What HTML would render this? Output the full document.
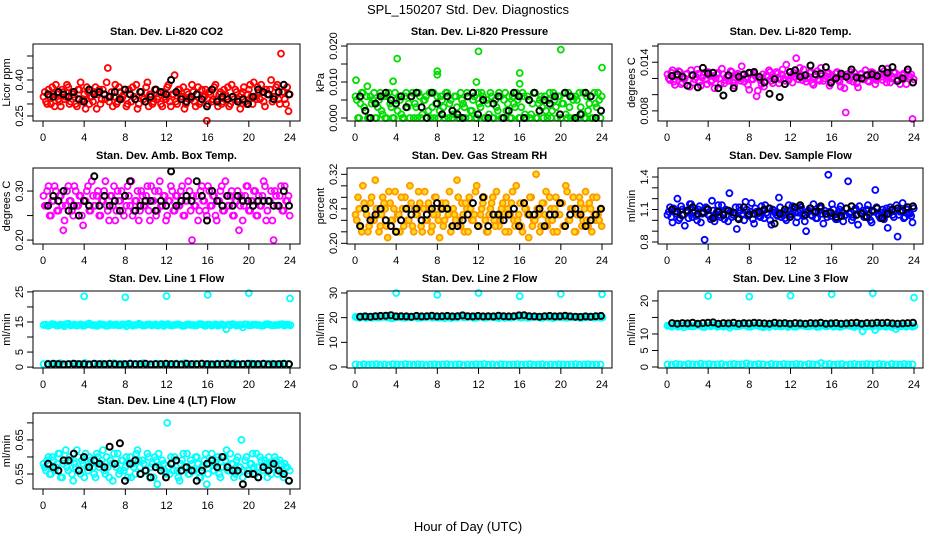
<!DOCTYPE html>
<html><head><meta charset="utf-8"><title>SPL_150207 Std. Dev. Diagnostics</title>
<style>html,body{margin:0;padding:0;background:#fff}svg{display:block;font-family:"Liberation Sans",sans-serif}</style>
</head><body>
<svg id="chart" width="936" height="540" viewBox="0 0 936 540">
<text x="468" y="14" text-anchor="middle" font-size="13">SPL_150207  Std. Dev. Diagnostics</text>
<text x="468" y="531" text-anchor="middle" font-size="13">Hour of Day (UTC)</text>
</svg>
<script>
// ---- data arrays ----
const co2Red=[0.33,0.31,0.36,0.30,0.34,0.38,0.32,0.29,0.35,0.33,0.37,0.31,0.34,0.30,0.36,0.39,0.32,0.28,0.35,0.33,0.31,0.37,0.34,0.30,0.36,0.32,0.45,0.33,0.29,0.38,0.31,0.35,0.33,0.36,0.30,0.34,0.37,0.32,0.28,0.35,0.33,0.31,0.39,0.34,0.30,0.36,0.32,0.35,0.29,0.33,0.37,0.31,0.34,0.42,0.30,0.36,0.33,0.28,0.35,0.32,0.38,0.31,0.34,0.30,0.36,0.33,0.23,0.35,0.31,0.37,0.32,0.34,0.30,0.36,0.33,0.29,0.38,0.32,0.35,0.31,0.34,0.37,0.30,0.36,0.33,0.39,0.32,0.35,0.38,0.31,0.36,0.34,0.40,0.33,0.37,0.32,0.51,0.35,0.30,0.27];
const co2Red2=[0.35,0.30,0.33,0.37,0.29,0.34,0.31,0.36,0.32,0.38,0.30,0.35,0.33,0.29,0.36,0.31,0.34,0.37,0.30,0.33,0.35,0.28,0.36,0.32,0.34,0.39,0.31,0.35,0.33,0.30,0.37,0.32,0.34,0.29,0.36,0.31,0.33,0.38,0.30,0.35,0.32,0.37,0.29,0.34,0.31,0.36,0.33,0.30,0.35,0.32,0.38,0.29,0.34,0.31,0.36,0.33,0.37,0.30,0.34,0.32,0.35,0.29,0.37,0.31,0.33,0.36,0.30,0.34,0.32,0.38,0.29,0.35,0.31,0.34,0.37,0.30,0.33,0.36,0.32,0.28,0.35,0.31,0.34,0.38,0.30,0.33,0.37,0.32,0.35,0.29,0.34,0.36,0.31,0.33,0.38,0.30,0.35,0.32,0.37,0.34];
const co2Black=[0.34,0.33,0.35,0.34,0.33,0.35,0.32,0.31,0.36,0.34,0.35,0.34,0.33,0.35,0.32,0.36,0.34,0.32,0.35,0.31,0.33,0.36,0.35,0.34,0.40,0.35,0.32,0.31,0.33,0.34,0.32,0.29,0.36,0.31,0.33,0.32,0.33,0.31,0.32,0.30,0.33,0.36,0.35,0.34,0.32,0.35,0.38,0.34];
const presGreen=[0.006,0.000,0.004,0.007,0.002,0.000,0.006,0.005,0.000,0.003,0.007,0.001,0.000,0.006,0.004,0.000,0.007,0.002,0.005,0.000,0.006,0.003,0.000,0.007,0.004,0.000,0.006,0.001,0.005,0.000,0.007,0.003,0.000,0.006,0.002,0.005,0.000,0.007,0.004,0.000,0.006,0.003,0.000,0.005,0.003,0.007,0.000,0.002,0.006,0.000,0.004,0.007,0.000,0.005,0.001,0.006,0.000,0.003,0.007,0.000,0.005,0.002,0.006,0.000,0.004,0.007,0.000,0.003,0.006,0.000,0.005,0.001,0.007,0.000,0.004,0.006,0.000,0.002,0.005,0.000,0.007,0.003,0.006,0.000,0.004,0.001,0.007,0.000,0.005,0.006,0.000,0.003,0.007,0.000,0.002,0.006,0.000,0.004,0.007,0.000];
const presGreen2=[0.005,0.000,0.007,0.003,0.006,0.000,0.004,0.007,0.000,0.005,0.002,0.006,0.000,0.007,0.003,0.000,0.005,0.006,0.001,0.000,0.007,0.004,0.006,0.000,0.003,0.007,0.000,0.005,0.006,0.002,0.000,0.007,0.004,0.000,0.006,0.003,0.007,0.000,0.005,0.001,0.006,0.000,0.007,0.004,0.000,0.006,0.002,0.005,0.000,0.007,0.003,0.006,0.000,0.004,0.007,0.000,0.005,0.002,0.006,0.000,0.007,0.004,0.000,0.006,0.003,0.005,0.000,0.007,0.001,0.006,0.000,0.004,0.007,0.000,0.005,0.003,0.006,0.000,0.007,0.002,0.005,0.000,0.006,0.004,0.007,0.000,0.003,0.006,0.000,0.005,0.007,0.001,0.000,0.006,0.004,0.000,0.007,0.003,0.005,0.006];
const presOutHours=[0.1,1.2,3.7,4.1,8,8,11.8,12,16,16,20,24];
const presOutVals=[0.0105,0.0088,0.0102,0.0165,0.012,0.013,0.010,0.0185,0.0125,0.0095,0.019,0.014];
const presBlack=[0.006,0.002,0,0.004,0.006,0.007,0.005,0.004,0.006,0.003,0.006,0.007,0.003,0,0.007,0.004,0.001,0.006,0.002,0.001,0,0.006,0.007,0.001,0.005,0,0.004,0.006,0,0.002,0.007,0.006,0,0.005,0.007,0.002,0.005,0.004,0.006,0.001,0.007,0.006,0,0.001,0.007,0.006,0,0.002];
const tempMag=[0.0125,0.0118,0.0130,0.0112,0.0122,0.0128,0.0115,0.0120,0.0126,0.0110,0.0124,0.0119,0.0131,0.0116,0.0121,0.0127,0.0113,0.0123,0.0118,0.0108,0.0125,0.0120,0.0132,0.0114,0.0122,0.0117,0.0128,0.0111,0.0124,0.0120,0.0135,0.0116,0.0122,0.0106,0.0119,0.0126,0.0098,0.0121,0.0113,0.0110,0.0124,0.0130,0.0117,0.0122,0.0128,0.0114,0.0125,0.0120,0.0137,0.0118,0.0123,0.0127,0.0145,0.0119,0.0124,0.0131,0.0116,0.0122,0.0128,0.0112,0.0125,0.0119,0.0133,0.0117,0.0123,0.0127,0.0114,0.0121,0.0126,0.0118,0.0110,0.0124,0.0078,0.0120,0.0128,0.0116,0.0122,0.0109,0.0125,0.0119,0.0130,0.0117,0.0123,0.0127,0.0113,0.0121,0.0126,0.0118,0.0124,0.0132,0.0115,0.0122,0.0127,0.0119,0.0113,0.0124,0.0120,0.0128,0.0122,0.0070];
const tempMag2=[0.0120,0.0127,0.0116,0.0123,0.0129,0.0113,0.0121,0.0125,0.0118,0.0130,0.0115,0.0122,0.0126,0.0111,0.0124,0.0119,0.0128,0.0116,0.0123,0.0120,0.0127,0.0113,0.0125,0.0118,0.0122,0.0129,0.0115,0.0121,0.0126,0.0117,0.0124,0.0120,0.0112,0.0127,0.0119,0.0123,0.0105,0.0118,0.0125,0.0116,0.0122,0.0128,0.0114,0.0121,0.0126,0.0119,0.0131,0.0117,0.0123,0.0128,0.0115,0.0122,0.0126,0.0133,0.0118,0.0124,0.0120,0.0127,0.0114,0.0122,0.0129,0.0117,0.0123,0.0120,0.0126,0.0111,0.0124,0.0119,0.0128,0.0116,0.0122,0.0108,0.0125,0.0118,0.0123,0.0127,0.0114,0.0121,0.0126,0.0119,0.0124,0.0116,0.0128,0.0121,0.0118,0.0125,0.0122,0.0129,0.0115,0.0123,0.0120,0.0127,0.0117,0.0124,0.0121,0.0126,0.0113,0.0122,0.0125,0.0119];
const tempBlack=[0.0123,0.0125,0.0122,0.0111,0.0124,0.0109,0.0133,0.0126,0.0127,0.0108,0.0099,0.0124,0.0108,0.0122,0.0125,0.0127,0.0128,0.0122,0.0115,0.0101,0.0119,0.0097,0.0113,0.0128,0.0130,0.0122,0.0124,0.0136,0.0125,0.0126,0.0134,0.0115,0.0120,0.0126,0.0122,0.0131,0.0121,0.0120,0.0124,0.0125,0.0123,0.0132,0.0127,0.0134,0.0117,0.0120,0.0131,0.0115];
const ambMag=[0.29,0.27,0.31,0.25,0.28,0.30,0.26,0.29,0.22,0.27,0.31,0.28,0.25,0.30,0.27,0.29,0.23,0.28,0.31,0.26,0.29,0.27,0.30,0.25,0.28,0.32,0.26,0.29,0.27,0.24,0.30,0.28,0.26,0.29,0.31,0.27,0.25,0.28,0.30,0.26,0.29,0.27,0.31,0.24,0.28,0.30,0.26,0.32,0.27,0.29,0.25,0.28,0.30,0.26,0.29,0.27,0.31,0.25,0.28,0.30,0.20,0.27,0.29,0.26,0.31,0.28,0.25,0.30,0.27,0.29,0.24,0.28,0.31,0.26,0.29,0.27,0.30,0.25,0.28,0.22,0.29,0.27,0.31,0.26,0.28,0.30,0.25,0.29,0.27,0.32,0.24,0.28,0.30,0.20,0.29,0.27,0.31,0.26,0.28,0.29];
const ambMag2=[0.27,0.30,0.25,0.28,0.31,0.26,0.29,0.27,0.24,0.30,0.28,0.26,0.31,0.27,0.29,0.25,0.28,0.30,0.26,0.32,0.27,0.29,0.25,0.28,0.30,0.27,0.24,0.29,0.31,0.26,0.28,0.30,0.25,0.27,0.29,0.32,0.26,0.28,0.24,0.30,0.27,0.29,0.26,0.31,0.28,0.25,0.30,0.27,0.29,0.24,0.28,0.31,0.26,0.29,0.27,0.30,0.25,0.28,0.32,0.26,0.29,0.27,0.24,0.30,0.28,0.26,0.31,0.27,0.29,0.25,0.28,0.30,0.26,0.32,0.27,0.29,0.25,0.28,0.30,0.27,0.24,0.29,0.31,0.26,0.28,0.30,0.25,0.27,0.29,0.31,0.26,0.28,0.24,0.30,0.27,0.29,0.26,0.31,0.28,0.25];
const ambBlack=[0.27,0.29,0.28,0.30,0.26,0.27,0.25,0.28,0.27,0.33,0.27,0.29,0.27,0.28,0.26,0.29,0.32,0.26,0.27,0.28,0.28,0.26,0.28,0.27,0.34,0.27,0.28,0.29,0.28,0.32,0.29,0.24,0.30,0.28,0.27,0.29,0.27,0.29,0.28,0.28,0.27,0.28,0.28,0.28,0.27,0.27,0.30,0.27];
const rhOrange=[0.25,0.28,0.23,0.30,0.26,0.22,0.27,0.24,0.31,0.25,0.23,0.28,0.26,0.21,0.27,0.24,0.29,0.25,0.22,0.26,0.28,0.24,0.30,0.23,0.26,0.25,0.27,0.22,0.29,0.24,0.26,0.23,0.28,0.25,0.21,0.27,0.24,0.26,0.29,0.23,0.25,0.31,0.24,0.27,0.22,0.26,0.28,0.24,0.25,0.30,0.23,0.26,0.28,0.22,0.25,0.27,0.24,0.29,0.23,0.26,0.25,0.28,0.22,0.27,0.24,0.30,0.25,0.23,0.27,0.26,0.21,0.28,0.24,0.32,0.25,0.23,0.27,0.29,0.24,0.26,0.22,0.28,0.25,0.27,0.23,0.30,0.24,0.26,0.28,0.22,0.25,0.27,0.24,0.29,0.23,0.26,0.28,0.24,0.25,0.26];
const rhOrange2=[0.24,0.26,0.22,0.27,0.25,0.23,0.28,0.24,0.26,0.22,0.25,0.27,0.23,0.29,0.24,0.26,0.22,0.25,0.28,0.23,0.26,0.24,0.27,0.22,0.25,0.29,0.23,0.26,0.24,0.27,0.22,0.25,0.28,0.24,0.26,0.23,0.27,0.25,0.22,0.26,0.24,0.28,0.23,0.25,0.27,0.22,0.26,0.24,0.29,0.23,0.25,0.27,0.24,0.22,0.26,0.28,0.23,0.25,0.24,0.27,0.22,0.26,0.25,0.29,0.23,0.24,0.27,0.22,0.26,0.25,0.28,0.23,0.24,0.26,0.22,0.27,0.25,0.23,0.28,0.24,0.26,0.22,0.25,0.27,0.23,0.29,0.24,0.26,0.22,0.25,0.28,0.23,0.26,0.24,0.27,0.22,0.25,0.28,0.24,0.23];
const rhBlack=[0.23,0.26,0.24,0.25,0.26,0.24,0.23,0.22,0.24,0.26,0.25,0.26,0.24,0.25,0.26,0.27,0.26,0.26,0.23,0.23,0.24,0.25,0.27,0.23,0.28,0.23,0.25,0.25,0.24,0.25,0.26,0.23,0.27,0.25,0.25,0.26,0.23,0.25,0.25,0.27,0.23,0.25,0.26,0.25,0.23,0.24,0.25,0.26];
const flowBlue=[1.05,1.12,0.98,1.08,1.20,1.02,1.10,0.95,1.07,1.15,1.03,1.09,1.00,1.13,1.06,0.82,1.11,1.04,1.18,0.99,1.08,1.05,1.14,1.01,1.09,1.25,1.03,1.07,0.92,1.12,1.05,1.00,1.10,1.06,1.16,0.97,1.08,1.04,1.13,1.02,1.07,1.11,0.96,1.09,1.05,1.21,1.03,1.08,1.00,1.14,1.06,1.10,0.98,1.07,1.12,1.04,0.90,1.09,1.05,1.15,1.02,1.08,1.11,0.97,1.06,1.42,1.04,1.10,1.01,1.07,1.13,0.99,1.05,1.36,1.08,1.03,1.11,0.96,1.07,1.09,1.04,1.14,1.00,1.08,1.28,1.06,1.02,1.10,1.07,0.93,1.12,1.05,1.09,0.85,1.08,1.16,1.03,1.10,1.06,0.98];
const flowBlue2=[1.08,1.03,1.11,1.06,1.00,1.13,1.05,1.09,1.02,1.15,1.07,1.04,1.10,0.98,1.08,1.12,1.05,1.01,1.09,1.06,1.14,1.03,1.07,1.10,0.99,1.08,1.05,1.12,1.02,1.09,1.06,1.17,1.04,1.08,1.01,1.11,1.06,1.03,1.09,1.14,1.05,1.00,1.10,1.07,1.04,1.12,1.06,1.02,1.09,1.05,1.13,1.07,1.03,1.10,1.06,0.99,1.08,1.11,1.04,1.07,1.02,1.12,1.06,1.09,1.03,1.08,1.15,1.05,1.01,1.10,1.07,1.04,1.11,1.06,1.00,1.09,1.05,1.13,1.07,1.03,1.10,1.06,0.98,1.08,1.12,1.04,1.07,1.01,1.11,1.06,1.09,1.03,1.14,1.05,1.08,1.02,1.10,1.07,1.04,1.11];
const flowBlack=[1.10,1.08,1.05,1.09,1.12,1.06,1.07,1.10,1.02,1.08,1.05,1.09,1.07,1.01,1.12,1.05,1.06,1.08,1.10,1.11,0.97,1.06,1.10,1.03,1.12,1.14,1.05,1.11,1.08,1.13,1.06,1.07,1.03,1.04,1.11,1.13,1.05,1.06,1.03,1.09,1.11,1.02,1.06,1.10,1.11,1.09,1.12,1.13];
const l1Band=[14.0,13.7,14.3,13.9,14.1,13.6,14.4,14.0,13.8,14.2,13.9,14.5,14.0,13.7,14.1,13.8,14.3,14.0,13.9,14.2,13.6,14.1,14.0,14.4,13.8,14.1,13.9,14.2,14.0,13.7,14.3,13.9,14.1,14.0,13.8,14.2,14.0,13.9,14.3,13.7,14.1,14.0,13.8,14.2,12.6,13.9,14.1,14.0,13.2,14.2,13.9,14.1,14.0,13.8,14.3,13.9,14.0,14.2,13.8,14.1];
const l1Band2=[14.1,13.9,14.2,13.8,14.0,14.3,13.9,14.1,14.0,13.7,14.2,14.0,13.9,14.3,14.1,13.8,14.0,14.2,13.9,14.1,14.4,13.8,14.0,14.1,13.9,14.2,14.0,13.8,14.3,14.1,13.9,14.0,14.2,13.7,14.1,14.0,13.9,14.3,14.0,14.1,13.8,14.2,14.0,13.9,14.1,14.3,13.8,14.0,14.2,13.9,14.1,14.0,13.8,14.2,14.1,13.9,14.0,14.3,14.1,13.9];
const l1Low=[1.0,1.2,0.9,1.1,1.3,1.0,0.9,1.2,1.1,1.0,1.4,0.9,1.1,1.0,1.2,0.9,1.1,1.3,1.0,1.1,0.9,1.2,1.0,1.1,1.3,0.9,1.0,1.2,1.1,1.0,0.9,1.1,1.2,1.0,1.3,0.9,1.1,1.0,1.2,0.9,1.1,1.0,1.2,1.1,0.9,1.0,1.3,1.1,1.0,0.9,1.2,1.1,1.0,0.9,1.1,1.2,1.0,1.1,0.9,1.0];
const l1Black=[1.0,1.1,1.0,0.9,1.0,1.1,1.0,1.0,0.9,1.1,1.0,1.0,1.1,1.0,0.9,1.0,1.1,1.0,1.0,1.1,0.9,1.0,1.0,1.1,1.0,1.0,0.9,1.1,1.0,1.0,1.1,1.0,0.9,1.0,1.0,1.1,1.0,0.9,1.0,1.1,1.0,1.0,1.1,0.9,1.0,1.0,1.1,1.0];
const l1OutHours=[4,8,12,16,20,24];
const l1OutVals=[23.5,23.2,23.6,24.0,24.6,22.8];
const l2Band=[20.3,20.0,20.5,20.2,19.9,20.4,20.1,20.6,20.2,19.8,20.3,20.5,20.0,20.2,20.4,19.9,20.3,20.1,20.5,20.2,20.0,20.4,20.2,19.8,20.3,20.6,20.1,20.2,20.4,19.9,20.3,20.0,20.5,20.2,20.1,20.4,19.9,20.3,20.2,20.5,20.0,20.3,20.1,20.4,20.2,19.9,20.3,20.5,20.1,20.2,20.4,20.0,20.3,20.2,19.9,20.4,20.1,20.3,20.2,20.0];
const l2Band2=[20.1,20.4,19.9,20.2,20.5,20.0,20.3,20.1,19.8,20.4,20.2,20.0,20.5,20.1,20.3,19.9,20.2,20.4,20.0,20.3,20.1,19.8,20.4,20.2,20.0,20.5,20.1,20.3,19.9,20.2,20.4,20.0,20.3,20.1,19.8,20.4,20.2,20.0,20.5,20.1,20.3,19.9,20.2,20.4,20.0,20.3,20.1,19.8,20.4,20.2,20.0,20.5,20.1,20.3,19.9,20.2,20.4,20.0,20.3,20.1];
const l2Low=[1.0,0.8,1.1,0.9,1.0,1.2,0.9,1.0,0.8,1.1,1.0,0.9,1.2,1.0,0.9,1.1,1.0,0.8,1.0,1.1,0.9,1.0,1.2,0.9,1.0,1.1,0.8,1.0,0.9,1.1,1.0,1.2,0.9,1.0,0.8,1.1,1.0,0.9,1.0,1.1,0.9,1.0,1.2,0.9,1.0,1.1,0.8,1.0,0.9,1.1,1.0,0.9,1.0,1.2,0.9,1.0,1.1,0.9,1.0,1.0];
const l2Black=[20.4,20.5,20.4,20.6,20.7,20.8,21.0,20.5,20.6,20.5,20.4,20.7,20.5,20.6,20.8,20.5,20.6,20.7,20.5,20.6,20.9,20.6,20.5,20.7,20.5,20.6,20.5,20.8,20.6,20.5,20.6,20.9,21.0,20.6,20.5,20.4,20.6,20.7,20.5,20.6,20.8,20.5,20.4,20.3,20.5,20.4,20.6,20.7];
const l2OutHours=[4,8,12,16,20,24];
const l2OutVals=[30.0,29.2,30.0,28.7,29.6,29.5];
const l3Band=[12.5,12.2,12.7,12.4,12.0,12.6,12.3,12.8,12.4,12.1,12.5,12.7,12.2,12.4,12.6,11.9,12.5,12.3,12.7,12.4,12.2,12.6,12.4,12.0,12.5,12.8,12.3,12.4,12.6,12.1,12.5,12.2,12.7,12.4,12.3,12.6,12.1,12.5,12.4,12.7,12.2,12.5,12.3,12.6,12.4,12.1,12.5,10.8,12.3,12.4,11.2,12.2,12.5,12.4,12.1,11.5,12.3,12.5,12.4,12.2];
const l3Band2=[12.4,12.6,12.2,12.5,12.7,12.3,12.4,12.6,12.1,12.5,12.3,12.7,12.4,12.2,12.6,12.5,12.3,12.4,12.7,12.2,12.5,12.6,12.3,12.4,12.1,12.6,12.5,12.3,12.7,12.4,12.2,12.5,12.6,12.3,12.4,12.7,12.2,12.5,12.3,12.6,12.4,12.1,12.5,12.6,12.3,12.4,12.7,12.2,12.5,12.3,12.6,12.4,12.2,12.5,12.6,12.3,12.4,12.2,12.5,12.4];
const l3Low=[0.8,0.7,0.9,0.8,0.6,0.9,0.8,0.7,1.0,0.8,0.9,0.7,0.8,0.9,0.6,0.8,0.9,0.7,0.8,1.1,0.8,0.7,0.9,0.8,0.6,0.9,0.8,0.7,0.9,0.8,0.7,0.9,0.8,0.6,0.9,0.8,0.7,1.2,0.8,0.9,0.7,0.8,0.9,0.6,0.8,0.9,0.7,0.8,0.9,0.8,0.7,0.9,0.8,0.6,0.9,0.8,0.7,0.9,0.8,0.8];
const l3Black=[13.3,13.1,13.3,13.2,13.4,13.1,13.3,13.4,13.5,13.1,13.3,13.2,13.4,13.1,13.3,13.2,13.4,13.3,13.2,13.1,13.4,13.2,13.3,13.1,13.3,13.2,13.1,13.3,13.2,13.4,13.1,13.2,13.3,13.1,13.2,13.3,13.4,13.1,13.3,13.2,13.4,13.3,13.4,13.2,13.1,13.2,13.3,13.4];
const l3OutHours=[4,8,12,16,20,24];
const l3OutVals=[21.5,21.3,21.6,22.0,22.3,21.0];
const l4Cyan=[0.58,0.56,0.60,0.55,0.59,0.57,0.61,0.54,0.58,0.62,0.56,0.59,0.53,0.57,0.60,0.55,0.58,0.61,0.56,0.59,0.57,0.54,0.60,0.58,0.62,0.55,0.57,0.59,0.53,0.58,0.61,0.56,0.59,0.57,0.54,0.60,0.58,0.55,0.62,0.57,0.59,0.56,0.61,0.54,0.58,0.60,0.52,0.57,0.59,0.56,0.70,0.55,0.58,0.60,0.56,0.53,0.59,0.57,0.61,0.55,0.58,0.56,0.60,0.54,0.57,0.59,0.52,0.58,0.61,0.56,0.59,0.55,0.57,0.60,0.62,0.56,0.58,0.54,0.59,0.57,0.65,0.56,0.60,0.55,0.58,0.57,0.61,0.54,0.59,0.56,0.58,0.60,0.55,0.57,0.59,0.56,0.58,0.54,0.57,0.53];
const l4Cyan2=[0.57,0.59,0.55,0.60,0.56,0.58,0.61,0.54,0.59,0.57,0.60,0.55,0.58,0.62,0.56,0.59,0.54,0.57,0.60,0.58,0.55,0.61,0.57,0.59,0.56,0.60,0.54,0.58,0.61,0.57,0.55,0.59,0.56,0.60,0.58,0.54,0.57,0.61,0.59,0.55,0.58,0.56,0.60,0.57,0.54,0.59,0.61,0.56,0.58,0.55,0.57,0.60,0.56,0.59,0.54,0.58,0.61,0.57,0.55,0.59,0.56,0.60,0.58,0.54,0.57,0.61,0.55,0.59,0.56,0.58,0.60,0.54,0.57,0.59,0.56,0.61,0.58,0.55,0.60,0.57,0.54,0.59,0.56,0.58,0.61,0.55,0.57,0.60,0.56,0.59,0.54,0.58,0.57,0.60,0.55,0.59,0.56,0.58,0.57,0.56];
const l4Black=[0.58,0.57,0.56,0.59,0.59,0.61,0.56,0.60,0.57,0.59,0.58,0.57,0.63,0.58,0.64,0.53,0.58,0.59,0.55,0.56,0.54,0.57,0.56,0.54,0.58,0.59,0.56,0.57,0.56,0.53,0.56,0.58,0.59,0.57,0.60,0.57,0.56,0.56,0.52,0.55,0.55,0.54,0.57,0.56,0.58,0.56,0.55,0.53];
const xTicks=[0,4,8,12,16,20,24];
const panelTitles=["Stan. Dev. Li-820 CO2","Stan. Dev. Li-820 Pressure","Stan. Dev. Li-820 Temp.","Stan. Dev. Amb. Box Temp.","Stan. Dev. Gas Stream RH","Stan. Dev. Sample Flow","Stan. Dev. Line 1 Flow","Stan. Dev. Line 2 Flow","Stan. Dev. Line 3 Flow","Stan. Dev. Line 4 (LT) Flow"];
const yTitles=["Licor ppm","kPa","degrees C","degrees C","percent","ml/min","ml/min","ml/min","ml/min","ml/min"];

// ---- layout ----
const cols=[{l:33,r:300,x0:43,x24:290},{l:347,r:612,x0:355,x24:602},{l:658,r:923,x0:667,x24:914}];
const rows=[{t:44,b:121},{t:168,b:244},{t:291,b:368},{t:413,b:489}];
const panels=[
 {ylim:[0.229,0.55],ticks:[0.25,0.30,0.35,0.40,0.45,0.50],labels:["0.25","","","0.40","",""],
  series:[{v:co2Red,c:"#ff0000"},{v:co2Red2,c:"#ff0000",off:1},{v:co2Black,c:"#000",blk:1}]},
 {ylim:[-0.00083,0.02056],ticks:[0,0.005,0.010,0.015,0.020],labels:["0.000","","0.010","","0.020"],
  series:[{v:presGreen,c:"#00dd00"},{v:presGreen2,c:"#00dd00",off:1},{v:presOutVals,h:presOutHours,c:"#00dd00"},{v:presBlack,c:"#000",blk:1}]},
 {ylim:[0.00675,0.01625],ticks:[0.008,0.010,0.012,0.014,0.016],labels:["0.008","","","0.014",""],
  series:[{v:tempMag,c:"#ff00ff"},{v:tempMag2,c:"#ff00ff",off:1},{v:tempBlack,c:"#000",blk:1}]},
 {ylim:[0.192,0.347],ticks:[0.20,0.25,0.30],labels:["0.20","","0.30"],
  series:[{v:ambMag,c:"#ff00ff"},{v:ambMag2,c:"#ff00ff",off:1},{v:ambBlack,c:"#000",blk:1}]},
 {ylim:[0.1988,0.331],ticks:[0.20,0.22,0.24,0.26,0.28,0.30,0.32],labels:["0.20","","","0.26","","","0.32"],
  series:[{v:rhOrange,c:"#ff9900",fill:"#ffdd22"},{v:rhOrange2,c:"#ff9900",fill:"#ffdd22",off:1},{v:rhBlack,c:"#000",blk:1}]},
 {ylim:[0.7815,1.483],ticks:[0.8,0.9,1.0,1.1,1.2,1.3,1.4],labels:["0.8","","","1.1","","","1.4"],
  series:[{v:flowBlue,c:"#0000ff"},{v:flowBlue2,c:"#0000ff",off:1},{v:flowBlack,c:"#000",blk:1}]},
 {ylim:[-0.3,25.3],ticks:[0,5,10,15,20,25],labels:["0","5","","15","","25"],
  series:[{v:l1Band,c:"#00ffff"},{v:l1Band2,c:"#00ffff",off:1},{v:l1Low,c:"#00ffff"},{v:l1OutVals,h:l1OutHours,c:"#00ffff"},{v:l1Black,c:"#000",blk:1}]},
 {ylim:[-0.4,30.8],ticks:[0,10,20,30],labels:["0","10","20","30"],
  series:[{v:l2Band,c:"#00ffff"},{v:l2Band2,c:"#00ffff",off:1},{v:l2Low,c:"#00ffff"},{v:l2OutVals,h:l2OutHours,c:"#00ffff"},{v:l2Black,c:"#000",blk:1}]},
 {ylim:[-0.3,23.0],ticks:[0,5,10,15,20],labels:["0","5","10","","20"],
  series:[{v:l3Band,c:"#00ffff"},{v:l3Band2,c:"#00ffff",off:1},{v:l3Low,c:"#00ffff"},{v:l3OutVals,h:l3OutHours,c:"#00ffff"},{v:l3Black,c:"#000",blk:1}]},
 {ylim:[0.506,0.729],ticks:[0.55,0.60,0.65,0.70],labels:["0.55","","0.65",""],
  series:[{v:l4Cyan,c:"#00ffff"},{v:l4Cyan2,c:"#00ffff",off:1},{v:l4Black,c:"#000",blk:1}]}
];

const NS="http://www.w3.org/2000/svg";
const svg=document.getElementById("chart");
function mk(tag,attrs,parent){const e=document.createElementNS(NS,tag);for(const k in attrs)e.setAttribute(k,attrs[k]);(parent||svg).appendChild(e);return e;}

panels.forEach((p,i)=>{
  const col=cols[i%3], row=rows[Math.floor(i/3)];
  const g=mk("g",{});
  
  
  const xs=h=>col.x0+(col.x24-col.x0)*h/24;
  const ys=v=>row.b-(v-p.ylim[0])/(p.ylim[1]-p.ylim[0])*(row.b-row.t);
  const tt=mk("text",{x:(col.l+col.r)/2,y:row.t-9,"text-anchor":"middle","font-size":"11","font-weight":"bold"},g);
  tt.textContent=panelTitles[i];
  
  
  const pg=mk("g",{},g);
  
  
  p.series.forEach(s=>{
    const n=s.v.length;
    s.v.forEach((v,j)=>{
      let h;
      if(s.h) h=s.h[j];
      else if(s.blk) h=0.5+23.4*j/(n-1);
      else h=0.05+23.8*(j+(s.off?0.5:0))/(n-1);
      const c=mk("circle",{cx:xs(h).toFixed(1),cy:ys(v).toFixed(1),r:s.blk?3:3,fill:s.fill||"none",stroke:s.c,"stroke-width":s.blk?2:1.8},pg);
      
      
    });
  });
  const bx=mk("rect",{x:col.l,y:row.t,width:col.r-col.l,height:row.b-row.t,fill:"none",stroke:"#000","stroke-width":1},g);
  
  
  const xa=mk("g",{},g);
  
  
  mk("line",{x1:xs(0),x2:xs(24),y1:row.b,y2:row.b,stroke:"#000"},xa);
  xTicks.forEach(t=>{
    mk("line",{x1:xs(t),x2:xs(t),y1:row.b,y2:row.b+6,stroke:"#000"},xa);
    const lb=mk("text",{x:xs(t),y:row.b+20,"text-anchor":"middle","font-size":"11"},xa);
    lb.textContent=t;
    
    
  });
  const ya=mk("g",{},g);
  
  
  p.ticks.forEach((t,k)=>{
    const y=ys(t);
    mk("line",{x1:col.l-6,x2:col.l,y1:y,y2:y,stroke:"#000"},ya);
    if(p.labels[k]){
      const lb=mk("text",{x:0,y:0,"text-anchor":"middle","font-size":"11",transform:`translate(${col.l-10},${y}) rotate(-90)`},ya);
      lb.textContent=p.labels[k];
      
      
    }
  });
  const yt=mk("text",{x:0,y:0,"text-anchor":"middle","font-size":"11",transform:`translate(${col.l-23},${(row.t+row.b)/2}) rotate(-90)`},g);
  yt.textContent=yTitles[i];
  
  
});
</script>
</body></html>
